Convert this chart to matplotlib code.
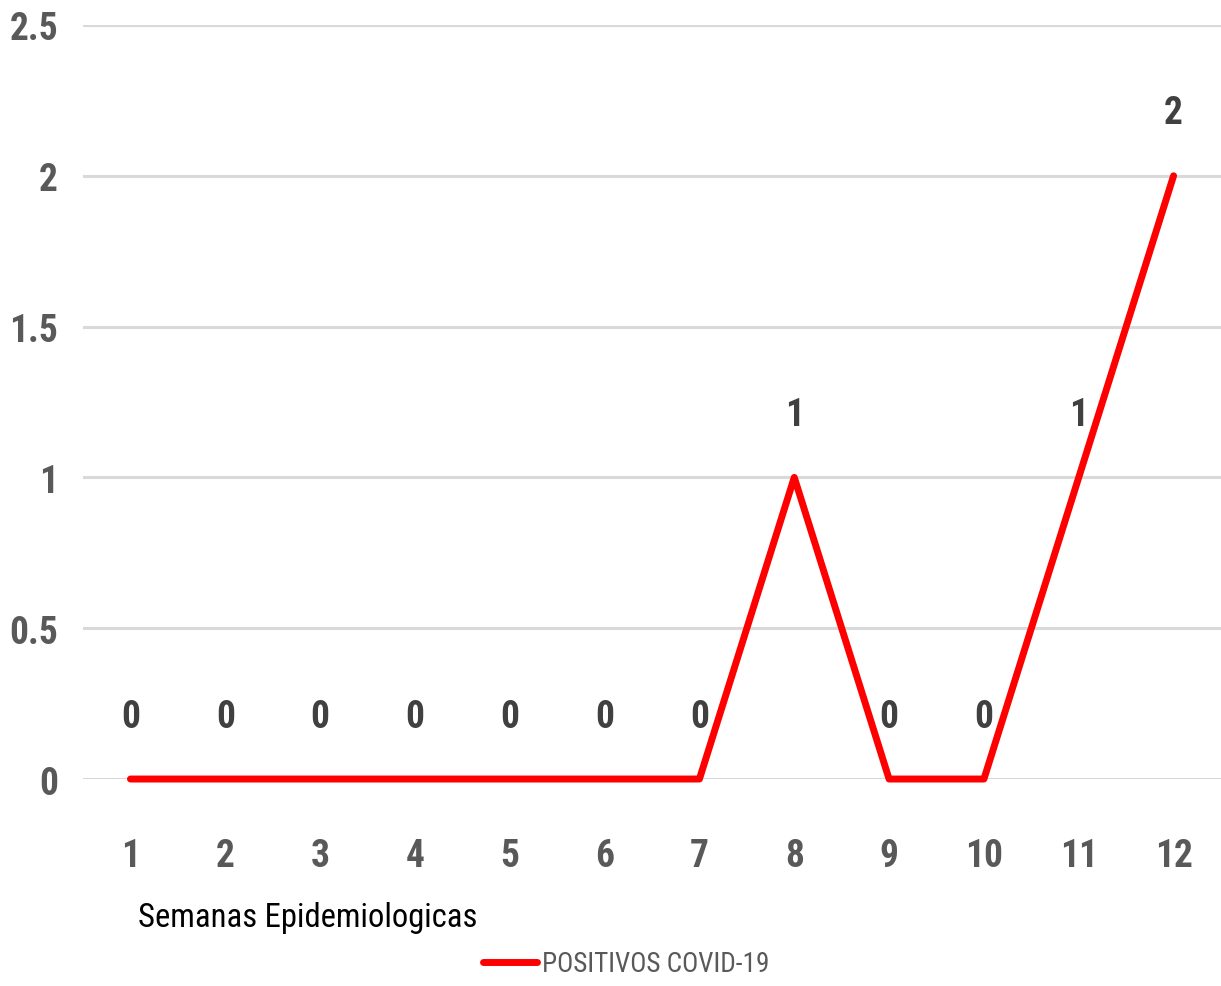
"""
    positivos covid-19 por semana
"""

from matplotlib import pyplot as plt
from matplotlib import font_manager
from matplotlib.font_manager import FontProperties

semanas = [1, 2, 3, 4, 5, 6, 7, 8, 9, 10, 11, 12]
positivos = [0, 0, 0, 0, 0, 0, 0, 1, 0, 0, 1, 2]
yticks = [0, 0.5, 1, 1.5, 2, 2.5]
ytick_labels = ["0", "0.5", "1", "1.5", "2", "2.5"]


def pick_font(bold):
    # narrow faces first, the narrowest families ahead of the others
    prefs = ["robotocondensed", "opensans-cond", "opensanscondensed", "liberationsansnarrow",
             "narrow", "cond"]
    best = None
    for f in font_manager.fontManager.ttflist:
        fn = f.fname.lower().replace("_", "").split("/")[-1]
        rank = None
        for i, p in enumerate(prefs):
            if p in fn:
                rank = i
                break
        if rank is None:
            continue
        if "italic" in fn or "oblique" in fn or f.style != "normal":
            continue
        w = f.weight if isinstance(f.weight, int) else 400
        score = (rank, abs(w - (700 if bold else 400)))
        if best is None or score < best[0]:
            best = (score, f.fname)
    return best[1] if best else None


fb = pick_font(True)
fr = pick_font(False)


def fp(size, bold):
    path = fb if bold else fr
    if path:
        return FontProperties(fname=path, size=size)
    return FontProperties(family="DejaVu Sans", weight="bold" if bold else "normal",
                          stretch="condensed", size=size * 0.8)


gris = "#595959"

fig = plt.figure(figsize=(12.21, 9.87), dpi=100)
ax = fig.add_axes([0.068, 0.2097, 0.932, 0.764])

ax.plot(semanas, positivos, color="#ff0000", lw=5, solid_capstyle="round",
        solid_joinstyle="round", clip_on=False, zorder=3, label="POSITIVOS COVID-19")

for x, y in zip(semanas, positivos):
    ax.annotate(str(y), (x, y), xytext=(0, 63), textcoords="offset pixels",
                ha="center", va="center", color="#404040", fontproperties=fp(27, True))

ax.set_xlim(0.5, 12.5)
ax.set_ylim(0, 2.5)
ax.set_yticks(yticks)
ax.set_yticklabels(ytick_labels)
ax.set_xticks(semanas)
ax.set_xticklabels([str(s) for s in semanas])
ax.grid(axis="y", color="#d9d9d9", lw=2.2)
ax.set_axisbelow(True)
for s in ax.spines.values():
    s.set_visible(False)
ax.tick_params(length=0)
ax.tick_params(axis="y", pad=18)
ax.tick_params(axis="x", pad=42)
for lab in ax.get_xticklabels() + ax.get_yticklabels():
    lab.set_fontproperties(fp(27, True))
    lab.set_color(gris)

fig.text(138 / 1221, 1 - 918 / 987, "Semanas Epidemiologicas", ha="left", va="center",
         color="black", fontproperties=fp(23.5, False))

leg = fig.legend(loc="center", bbox_to_anchor=(626 / 1221, 1 - 965 / 987), frameon=False,
                 handlelength=2.0, handletextpad=0.2, prop=fp(19.5, False))
for t in leg.get_texts():
    t.set_color(gris)

fig.savefig("out.png", dpi=100)
